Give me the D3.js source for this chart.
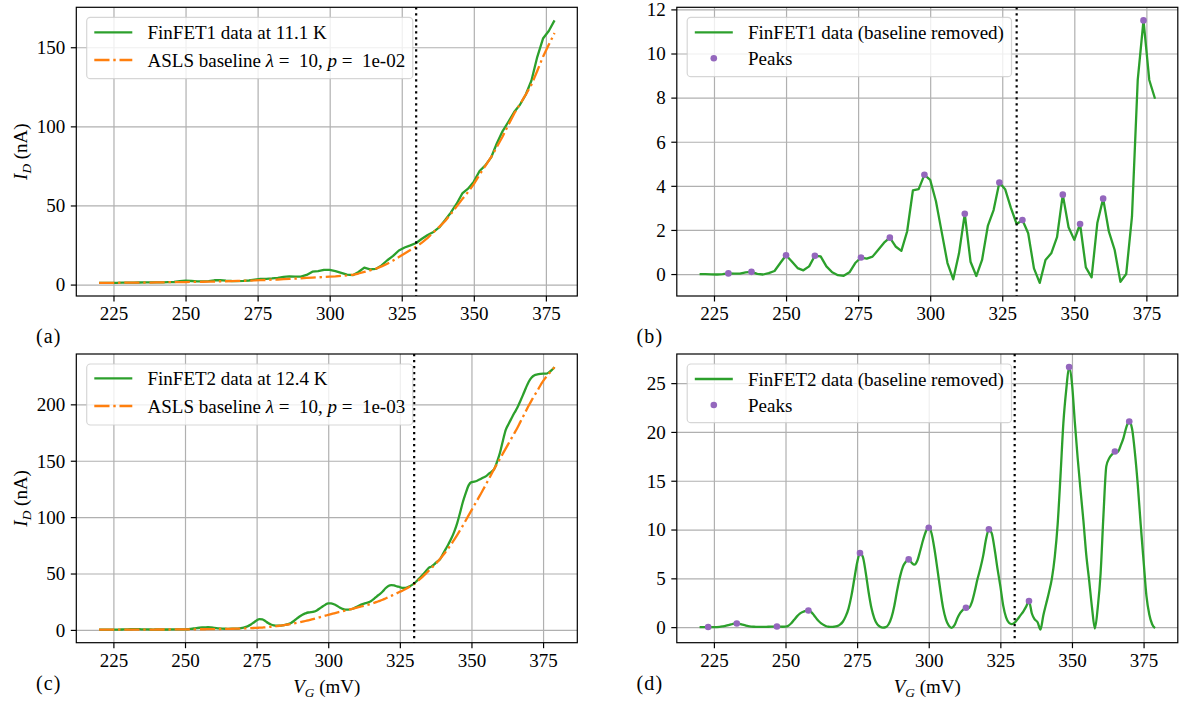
<!DOCTYPE html>
<html>
<head>
<meta charset="utf-8">
<script src="https://cdn.jsdelivr.net/npm/d3@7"></script>
<style>
  body { margin: 0; background: #fff; }
  svg { display: block; }
  text { font-family: "Liberation Serif", "DejaVu Serif", serif; fill: #000; }
</style>
</head>
<body>
<svg id="fig" width="1183" height="701"></svg>
<script>
// ---------------- data ----------------
// FinFET1: gate voltage sampled every 2 mV (220 ... 378 mV)
const vgFet1 = d3.range(220, 380, 2);
const fet1Current = [
  1.1, 1.1, 1.09, 1.08, 1.2, 1.23, 1.22, 1.32, 1.38, 1.4,
  1.41, 1.38, 1.54, 1.64, 2.1, 2.45, 2.27, 1.97, 1.97, 2.25,
  2.73, 2.8, 2.45, 2.28, 2.25, 2.32, 2.58, 3.1, 3.55, 3.6,
  3.89, 4.3, 4.82, 5.25, 5.05, 5.05, 6.13, 8.19, 8.45, 9.3,
  9.27, 8.5, 7.4, 6.3, 5.96, 7.94, 10.73, 9.56, 9.91, 12.14,
  15.38, 18.1, 21.55, 23.45, 24.8, 26.27, 28.95, 31.35, 33.26, 36.1,
  40.64, 45.44, 50.97, 57.6, 60.62, 65.05, 71.77, 75.3, 80.35, 89.33,
  97.02, 102.92, 109.09, 113.65, 120.0, 129.0, 143.8, 155.5, 160.3, 166.95
];
const fet1Baseline = [
  1.1, 1.1, 1.1, 1.1, 1.2, 1.2, 1.2, 1.3, 1.3, 1.3,
  1.4, 1.4, 1.5, 1.5, 1.6, 1.6, 1.7, 1.7, 1.8, 1.9,
  1.9, 2.0, 2.1, 2.2, 2.3, 2.4, 2.5, 2.6, 2.8, 2.9,
  3.1, 3.2, 3.4, 3.6, 3.8, 4.0, 4.2, 4.4, 4.6, 4.8,
  5.0, 5.2, 5.5, 5.8, 6.2, 7.0, 8.0, 9.0, 10.0, 11.5,
  13.2, 15.2, 17.4, 19.6, 21.8, 24.0, 26.5, 29.5, 33.0, 36.5,
  40.0, 44.5, 49.3, 54.0, 58.5, 63.5, 69.5, 75.0, 80.5, 87.0,
  93.6, 101.0, 108.0, 114.0, 120.0, 126.4, 135.0, 144.0, 151.5, 159.0
];
const fet1Removed = [
  0.0, 0.0, -0.01, -0.02, 0.0, 0.03, 0.02, 0.02, 0.08, 0.1,
  0.01, -0.02, 0.04, 0.14, 0.5, 0.85, 0.57, 0.27, 0.17, 0.35,
  0.83, 0.8, 0.35, 0.08, -0.05, -0.08, 0.08, 0.5, 0.75, 0.7,
  0.79, 1.1, 1.42, 1.65, 1.25, 1.05, 1.93, 3.79, 3.85, 4.5,
  4.27, 3.3, 1.9, 0.5, -0.24, 0.94, 2.73, 0.56, -0.09, 0.64,
  2.18, 2.9, 4.15, 3.85, 3.0, 2.27, 2.45, 1.85, 0.26, -0.4,
  0.64, 0.94, 1.67, 3.6, 2.12, 1.55, 2.27, 0.3, -0.15, 2.33,
  3.42, 1.92, 1.09, -0.35, 0.0, 2.6, 8.8, 11.5, 8.8, 7.95
];
const fet1Peaks = [230, 238, 250, 260, 276, 286, 298, 312, 324, 332, 346, 352, 360, 374];

// FinFET2: gate voltage sampled every 1 mV (220 ... 379 mV)
const vgFet2 = d3.range(220, 380, 1);
const fet2Current = [
  0.3, 0.3, 0.3, 0.31, 0.3, 0.3, 0.31, 0.33, 0.37, 0.42,
  0.5, 0.58, 0.65, 0.68, 0.63, 0.55, 0.47, 0.4, 0.36, 0.34,
  0.38, 0.37, 0.37, 0.38, 0.39, 0.45, 0.46, 0.47, 0.45, 0.44,
  0.5, 0.6, 0.9, 1.25, 1.65, 1.93, 2.15, 2.27, 2.36, 2.2,
  1.9, 1.55, 1.3, 1.13, 1.02, 0.99, 1.02, 1.09, 1.2, 1.45,
  1.85, 2.5, 3.4, 4.8, 6.6, 8.4, 9.54, 9.3, 7.9, 6.1,
  4.75, 4.0, 3.7, 3.75, 3.95, 4.4, 5.1, 6.2, 7.9, 10.0,
  11.9, 13.5, 14.6, 15.44, 15.7, 16.2, 17.3, 19.0, 20.8, 22.4,
  23.49, 23.6, 22.7, 21.4, 19.9, 18.6, 18.0, 17.95, 18.33, 19.2,
  20.6, 21.85, 22.9, 23.78, 24.45, 25.7, 27.6, 29.8, 31.8, 34.1,
  36.9, 39.02, 39.8, 39.4, 38.6, 38.0, 37.2, 37.3, 38.15, 39.5,
  41.25, 43.6, 46.2, 48.9, 51.8, 54.87, 56.1, 58.1, 60.5, 62.65,
  67.1, 71.6, 76.2, 81.2, 87.2, 94.5, 103.7, 113.4, 121.3, 128.14,
  131.0, 131.5, 132.3, 133.5, 134.9, 136.1, 138.3, 140.2, 142.85, 149.5,
  157.5, 168.0, 177.5, 182.8, 187.7, 192.49, 196.95, 202.6, 208.4, 214.5,
  220.07, 223.8, 225.8, 226.5, 227.0, 227.3, 227.2, 228.3, 230.3, 232.9
];
const fet2Baseline = [
  0.3, 0.3, 0.3, 0.3, 0.3, 0.3, 0.3, 0.3, 0.3, 0.3,
  0.3, 0.3, 0.3, 0.3, 0.3, 0.3, 0.3, 0.3, 0.3, 0.3,
  0.35, 0.35, 0.35, 0.35, 0.35, 0.4, 0.4, 0.4, 0.4, 0.4,
  0.45, 0.45, 0.5, 0.5, 0.55, 0.55, 0.6, 0.6, 0.65, 0.65,
  0.7, 0.75, 0.8, 0.85, 0.9, 0.95, 1.0, 1.05, 1.1, 1.2,
  1.3, 1.4, 1.5, 1.6, 1.7, 1.8, 1.95, 2.1, 2.3, 2.5,
  2.8, 3.1, 3.4, 3.7, 4.0, 4.4, 4.8, 5.2, 5.7, 6.2,
  6.7, 7.3, 7.9, 8.5, 9.1, 9.8, 10.5, 11.2, 11.9, 12.6,
  13.3, 14.0, 14.7, 15.4, 16.0, 16.6, 17.2, 17.8, 18.4, 19.0,
  19.7, 20.4, 21.1, 21.8, 22.5, 23.2, 24.0, 24.9, 25.8, 26.8,
  27.9, 29.0, 30.2, 31.4, 32.6, 33.8, 35.0, 36.3, 37.7, 39.2,
  40.8, 42.8, 45.0, 47.3, 49.7, 52.2, 54.7, 57.3, 60.0, 62.9,
  65.9, 69.2, 72.6, 76.2, 80.0, 84.0, 88.2, 92.5, 97.0, 101.5,
  106.0, 110.5, 115.0, 119.5, 124.0, 128.7, 133.5, 138.2, 143.0, 147.5,
  152.0, 156.5, 161.0, 165.5, 170.0, 174.5, 179.0, 184.0, 189.0, 194.0,
  199.0, 203.5, 208.0, 212.0, 216.5, 220.5, 224.0, 227.0, 230.0, 233.0
];
const fet2Removed = [
  0, 0, 0, 0.01, 0, 0, 0.01, 0.03, 0.07, 0.12,
  0.2, 0.28, 0.35, 0.38, 0.33, 0.25, 0.17, 0.1, 0.06, 0.04,
  0.03, 0.02, 0.02, 0.03, 0.04, 0.05, 0.06, 0.07, 0.05, 0.04,
  0.05, 0.15, 0.4, 0.75, 1.1, 1.38, 1.55, 1.67, 1.71, 1.55,
  1.2, 0.8, 0.5, 0.28, 0.12, 0.04, 0.02, 0.04, 0.1, 0.25,
  0.55, 1.1, 1.9, 3.2, 4.9, 6.6, 7.59, 7.2, 5.6, 3.6,
  1.95, 0.9, 0.3, 0.05, -0.05, 0.0, 0.3, 1.0, 2.2, 3.8,
  5.2, 6.2, 6.7, 6.94, 6.6, 6.4, 6.8, 7.8, 8.9, 9.8,
  10.19, 9.6, 8.0, 6.0, 3.9, 2.0, 0.8, 0.15, -0.07, 0.2,
  0.9, 1.45, 1.8, 1.98, 1.95, 2.5, 3.6, 4.9, 6.0, 7.3,
  9.0, 10.02, 9.6, 8.0, 6.0, 4.2, 2.2, 1.0, 0.45, 0.3,
  0.45, 0.8, 1.2, 1.6, 2.1, 2.67, 1.4, 0.8, 0.5, -0.25,
  1.2, 2.4, 3.6, 5.0, 7.2, 10.5, 15.5, 20.9, 24.3, 26.64,
  25.0, 21.0, 17.3, 14.0, 10.9, 7.4, 4.8, 2.0, -0.15, 2.0,
  5.5, 11.5, 16.5, 17.3, 17.7, 17.99, 17.95, 18.6, 19.4, 20.5,
  21.07, 20.3, 17.8, 14.5, 10.5, 6.8, 3.2, 1.3, 0.3, -0.1
];
const fet2Peaks = [223, 233, 247, 258, 276, 293, 300, 313, 321, 335, 349, 365, 370];

const vgTicks = [225, 250, 275, 300, 325, 350, 375];
const ticksA = [0, 50, 100, 150];
const ticksB = [0, 2, 4, 6, 8, 10, 12];
const ticksC = [0, 50, 100, 150, 200];
const ticksD = [0, 5, 10, 15, 20, 25];
const cutoffVg = 330;

// ---------------- styling ----------------
const GREEN = "#2ca02c", ORANGE = "#ff7f0e", PURPLE = "#9467bd";
const FS = 19;             // base font size (px)
const LW = 2.3;            // data line width
const THIN = 1.2;          // spines, ticks, grid
const DASHDOT = "15.2,3.8,2.4,3.8";
const SERIF = '"Liberation Serif", "DejaVu Serif", serif';

const svg = d3.select("#fig");

function padded(values) {
  const [lo, hi] = d3.extent(values);
  const m = (hi - lo) * 0.05;
  return [lo - m, hi + m];
}

// write a list of [text, italic, sub] runs into a text node
function runs(sel, parts) {
  parts.forEach(([t, it, sub]) => {
    const ts = sel.append("tspan").text(t);
    if (it) ts.attr("font-style", "italic");
    if (sub) ts.attr("font-size", FS * 0.7).attr("dy", 4);
    else if (sub === false) ts.attr("dy", -4);
  });
}

let clipId = 0;
function drawPanel(cfg) {
  const { box, xs, series, peaks, yTicks, legend, tag } = cfg;
  const g = svg.append("g");
  const w = box.x1 - box.x0, h = box.y1 - box.y0;

  const x = d3.scaleLinear().domain(padded(xs)).range([box.x0, box.x1]);
  const y = d3.scaleLinear()
    .domain(padded(series.flatMap(s => s.values)))
    .range([box.y1, box.y0]);

  // grid
  const gx = g.append("g").attr("transform", `translate(0,${box.y1})`)
    .call(d3.axisBottom(x).tickValues(vgTicks).tickSize(-h).tickFormat(""));
  const gy = g.append("g").attr("transform", `translate(${box.x0},0)`)
    .call(d3.axisLeft(y).tickValues(yTicks).tickSize(-w).tickFormat(""));
  [gx, gy].forEach(a => {
    a.select(".domain").remove();
    a.selectAll("line").attr("stroke", "#b0b0b0").attr("stroke-width", THIN);
  });

  const cid = "clip" + (clipId++);
  g.append("clipPath").attr("id", cid).append("rect")
    .attr("x", box.x0).attr("y", box.y0).attr("width", w).attr("height", h);
  const plot = g.append("g").attr("clip-path", `url(#${cid})`);

  // data curves
  series.forEach(s => {
    const line = d3.line()
      .x((d, i) => x(xs[i]))
      .y(d => y(d))
      .curve(s.curve || d3.curveLinear);
    plot.append("path")
      .attr("d", line(s.values))
      .attr("fill", "none")
      .attr("stroke", s.color)
      .attr("stroke-width", LW)
      .attr("stroke-dasharray", s.dash || null)
      .attr("stroke-linejoin", "round");
  });

  // vertical marker at the cut-off gate voltage
  plot.append("line")
    .attr("x1", x(cutoffVg)).attr("x2", x(cutoffVg))
    .attr("y1", box.y0).attr("y2", box.y1)
    .attr("stroke", "#000").attr("stroke-width", 2.2)
    .attr("stroke-dasharray", "2.2,3.8");

  // peak markers
  if (peaks) {
    const src = series[0];
    plot.selectAll("circle.peak").data(peaks).join("circle")
      .attr("class", "peak")
      .attr("cx", v => x(v))
      .attr("cy", v => y(src.values[xs.indexOf(v)]))
      .attr("r", 3.3)
      .attr("fill", PURPLE);
  }

  // legend
  const lg = g.append("g");
  const lx = box.x0 + 10.4, ly = box.y0 + 10;
  const frame = lg.append("rect")
    .attr("x", lx).attr("y", ly).attr("rx", 3.8).attr("ry", 3.8)
    .attr("height", legend.height)
    .attr("fill", "#fff").attr("fill-opacity", 0.8)
    .attr("stroke", "#cccccc").attr("stroke-opacity", 0.8)
    .attr("stroke-width", THIN);
  const hx0 = lx + 7.6, hx1 = hx0 + 38, tx = hx1 + 15.2;
  let maxW = 0;
  legend.items.forEach((it, k) => {
    const cy = ly + legend.rows[k];
    if (it.kind === "dot") {
      lg.append("circle").attr("cx", (hx0 + hx1) / 2).attr("cy", cy)
        .attr("r", 3.3).attr("fill", it.color);
    } else {
      lg.append("line").attr("x1", hx0).attr("x2", hx1)
        .attr("y1", cy).attr("y2", cy)
        .attr("stroke", it.color).attr("stroke-width", LW)
        .attr("stroke-dasharray", it.dash || null);
    }
    const t = lg.append("text").attr("x", tx).attr("y", cy + 6.5)
      .attr("font-size", FS).style("white-space", "pre");
    runs(t, it.label);
    maxW = Math.max(maxW, t.node().getComputedTextLength());
  });
  frame.attr("width", tx + maxW + 7.6 - lx);

  // frame
  g.append("rect")
    .attr("x", box.x0).attr("y", box.y0).attr("width", w).attr("height", h)
    .attr("fill", "none").attr("stroke", "#000").attr("stroke-width", THIN);

  // tick marks and labels
  const ax = g.append("g").attr("transform", `translate(0,${box.y1})`)
    .call(d3.axisBottom(x).tickValues(vgTicks).tickSize(5.5).tickPadding(5.5));
  const ay = g.append("g").attr("transform", `translate(${box.x0},0)`)
    .call(d3.axisLeft(y).tickValues(yTicks).tickSize(5.5).tickPadding(5.5));
  [ax, ay].forEach(a => {
    a.attr("font-family", null).attr("font-size", null);
    a.select(".domain").remove();
    a.selectAll("line").attr("stroke", "#000").attr("stroke-width", THIN);
    a.selectAll("text").style("font-size", FS + "px")
      .style("font-family", SERIF).attr("fill", "#000");
  });
  ay.selectAll("text").attr("dy", "0.33em");

  // panel tag
  g.append("text").attr("x", box.x0 - 40.4).attr("y", box.y1 + 47.3)
    .attr("font-size", 20).attr("letter-spacing", 1.2).text(tag);

  return { x, y };
}

const boxes = {
  a: { x0: 76.3, x1: 577.3, y0: 7.3, y1: 296 },
  b: { x0: 676.8, x1: 1177.8, y0: 7.3, y1: 296 },
  c: { x0: 76.3, x1: 577.3, y0: 354, y1: 642.7 },
  d: { x0: 676.8, x1: 1177.8, y0: 354, y1: 642.7 }
};

const aslsLabel = p => [["ASLS baseline "], ["\u03bb", true], [" =  10, "], ["p", true], [" =  " + p]];

drawPanel({
  box: boxes.a, xs: vgFet1, yTicks: ticksA, tag: "(a)",
  series: [
    { values: fet1Current, color: GREEN },
    { values: fet1Baseline, color: ORANGE, dash: DASHDOT }
  ],
  legend: {
    height: 61.4, rows: [15, 42.7],
    items: [
      { color: GREEN, label: [["FinFET1 data at 11.1 K"]] },
      { color: ORANGE, dash: DASHDOT, label: aslsLabel("1e-02") }
    ]
  }
});

drawPanel({
  box: boxes.b, xs: vgFet1, yTicks: ticksB, tag: "(b)", peaks: fet1Peaks,
  series: [{ values: fet1Removed, color: GREEN }],
  legend: {
    height: 59.4, rows: [15, 41],
    items: [
      { color: GREEN, label: [["FinFET1 data (baseline removed)"]] },
      { kind: "dot", color: PURPLE, label: [["Peaks"]] }
    ]
  }
});

drawPanel({
  box: boxes.c, xs: vgFet2, yTicks: ticksC, tag: "(c)",
  series: [
    { values: fet2Current, color: GREEN, curve: d3.curveMonotoneX },
    { values: fet2Baseline, color: ORANGE, dash: DASHDOT, curve: d3.curveMonotoneX }
  ],
  legend: {
    height: 61, rows: [14.3, 42],
    items: [
      { color: GREEN, label: [["FinFET2 data at 12.4 K"]] },
      { color: ORANGE, dash: DASHDOT, label: aslsLabel("1e-03") }
    ]
  }
});

drawPanel({
  box: boxes.d, xs: vgFet2, yTicks: ticksD, tag: "(d)", peaks: fet2Peaks,
  series: [{ values: fet2Removed, color: GREEN, curve: d3.curveMonotoneX }],
  legend: {
    height: 58.7, rows: [15, 41],
    items: [
      { color: GREEN, label: [["FinFET2 data (baseline removed)"]] },
      { kind: "dot", color: PURPLE, label: [["Peaks"]] }
    ]
  }
});

// axis titles
[boxes.a, boxes.c].forEach(b => {
  const cy = (b.y0 + b.y1) / 2;
  const t = svg.append("text")
    .attr("transform", `translate(27,${cy}) rotate(-90)`)
    .attr("text-anchor", "middle").attr("font-size", FS);
  runs(t, [["I", true], ["D", true, true], [" (nA)", false, false]]);
});
[boxes.c, boxes.d].forEach(b => {
  const t = svg.append("text")
    .attr("x", (b.x0 + b.x1) / 2).attr("y", b.y1 + 50.3)
    .attr("text-anchor", "middle").attr("font-size", FS);
  runs(t, [["V", true], ["G", true, true], [" (mV)", false, false]]);
});
</script>
</body>
</html>
